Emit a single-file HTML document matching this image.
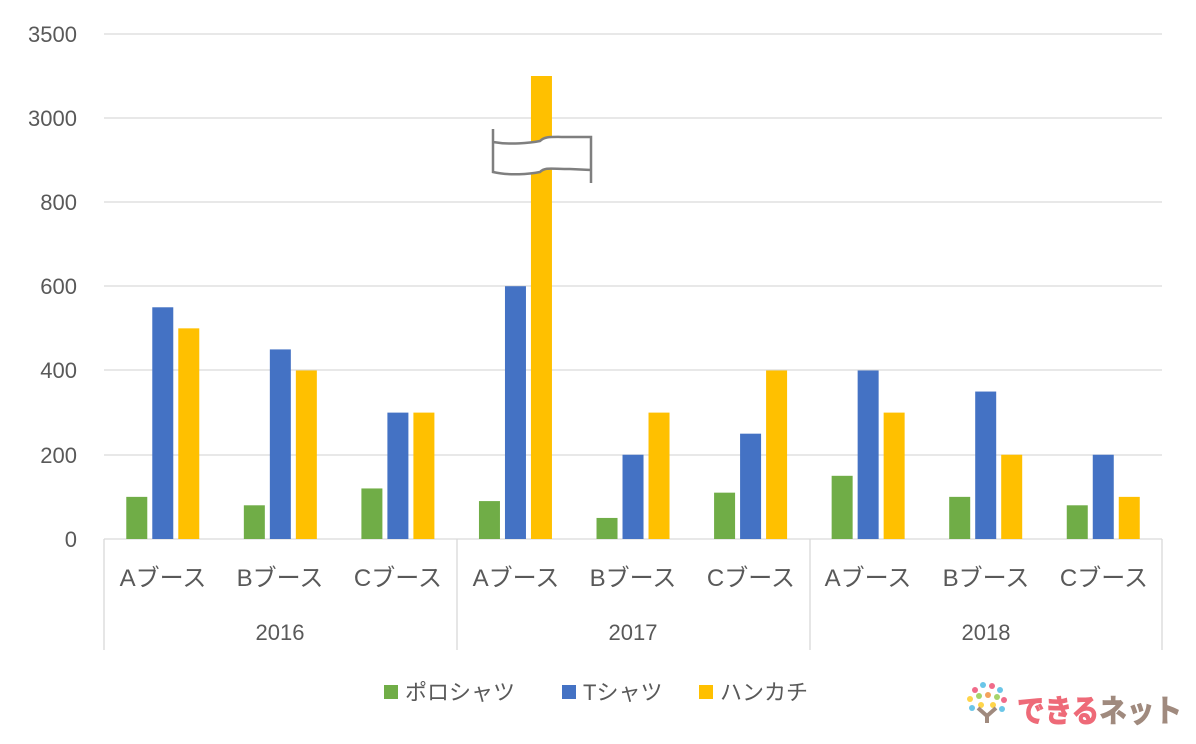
<!DOCTYPE html>
<html><head><meta charset="utf-8"><style>
body{margin:0;background:#fff;}
svg text{font-family:"Liberation Sans","Noto Sans CJK JP",sans-serif;}
</style></head><body>
<svg width="1196" height="739" viewBox="0 0 1196 739" xmlns="http://www.w3.org/2000/svg">
<g stroke="#d9d9d9" stroke-width="1.3">
<line x1="104" x2="1162" y1="34" y2="34"/><line x1="104" x2="1162" y1="118" y2="118"/>
<line x1="104" x2="1162" y1="202" y2="202"/><line x1="104" x2="1162" y1="286" y2="286"/>
<line x1="104" x2="1162" y1="370" y2="370"/><line x1="104" x2="1162" y1="455" y2="455"/>
<line x1="104" x2="1162" y1="539" y2="539"/>
<line x1="104" x2="104" y1="539" y2="650"/><line x1="457" x2="457" y1="539" y2="650"/>
<line x1="810" x2="810" y1="539" y2="650"/><line x1="1162" x2="1162" y1="539" y2="650"/>
</g>
<g font-size="22" fill="#595959" text-anchor="end">
<text x="77" y="42">3500</text><text x="77" y="126">3000</text><text x="77" y="210">800</text>
<text x="77" y="294">600</text><text x="77" y="378">400</text><text x="77" y="463">200</text><text x="77" y="547">0</text>
</g>
<g id="bars"></g>
<g font-size="24" fill="#595959" text-anchor="middle">
<text x="163" y="586">Aブース</text><text x="280" y="586">Bブース</text><text x="398" y="586">Cブース</text>
<text x="516" y="586">Aブース</text><text x="633" y="586">Bブース</text><text x="751" y="586">Cブース</text>
<text x="868" y="586">Aブース</text><text x="986" y="586">Bブース</text><text x="1104" y="586">Cブース</text>
</g>
<g font-size="22" fill="#595959" text-anchor="middle">
<text x="280" y="640">2016</text><text x="633" y="640">2017</text><text x="986" y="640">2018</text>
</g>
<g font-size="22" fill="#595959">
<rect x="384" y="685" width="14" height="14" fill="#70ad47"/><text x="405" y="700">ポロシャツ</text>
<rect x="562" y="685" width="14" height="14" fill="#4472c4"/><text x="583" y="700">Tシャツ</text>
<rect x="699" y="685" width="14" height="14" fill="#ffc000"/><text x="720" y="700">ハンカチ</text>
</g>
<path d="M493 142 C510 145 530 143 540 141 C545 136 550 137 570 137 L591 137 V170 L570 169 C550 169 545 167 540 172 C530 174 510 176 493 172 Z" fill="#fff" stroke="none"/>
<path d="M493 129 V172 C510 176 530 174 540 172 C545 167 550 169 570 169 L591 170 M591 183 V137 L570 137 C550 137 545 136 540 141 C530 143 510 145 493 142" fill="none" stroke="#7f7f7f" stroke-width="2.5"/>
<g>
<circle cx="975" cy="690" r="3" fill="#f06b8a"/><circle cx="983" cy="685" r="3" fill="#6bc6e8"/><circle cx="992" cy="686" r="3" fill="#f06b8a"/><circle cx="1000" cy="690" r="3" fill="#6bc6e8"/>
<circle cx="970" cy="699" r="3" fill="#ffd54a"/><circle cx="979" cy="696" r="3" fill="#a5d46a"/><circle cx="988" cy="695" r="3" fill="#f4a35c"/><circle cx="997" cy="697" r="3" fill="#a5d46a"/><circle cx="1004" cy="700" r="3" fill="#f06b8a"/>
<circle cx="972" cy="708" r="3" fill="#6bc6e8"/><circle cx="981" cy="705" r="3" fill="#ffd54a"/><circle cx="993" cy="705" r="3" fill="#ffd54a"/><circle cx="1002" cy="709" r="3" fill="#6bc6e8"/>
<path d="M978 708 L987 716 L996 708 M987 716 V723" stroke="#a08a7e" stroke-width="4" fill="none"/>
</g>
<text x="1017" y="722" font-size="31" font-weight="bold" fill="#ee6a78" textLength="165" lengthAdjust="spacingAndGlyphs" stroke="#ee6a78" stroke-width="1">でき<tspan fill="#ee6a78">る</tspan><tspan fill="#a08a7e" stroke="#a08a7e">ネット</tspan></text>
</svg>
<script>
var d=[[100,550,500],[80,450,400],[120,300,300],[90,600,-1],[50,200,300],[110,250,400],[150,400,300],[100,350,200],[80,200,100]];
var c=["#70ad47","#4472c4","#ffc000"],g=document.getElementById("bars"),s="";
d.forEach(function(v,i){var cx=104+(i+0.5)*117.56;v.forEach(function(val,j){var y=val<0?76:539-val*0.4213;s+='<rect x="'+(cx-36.5+j*26)+'" y="'+y+'" width="21" height="'+(539-y)+'" fill="'+c[j]+'"/>';});});
g.innerHTML=s;
</script>
</body></html>
